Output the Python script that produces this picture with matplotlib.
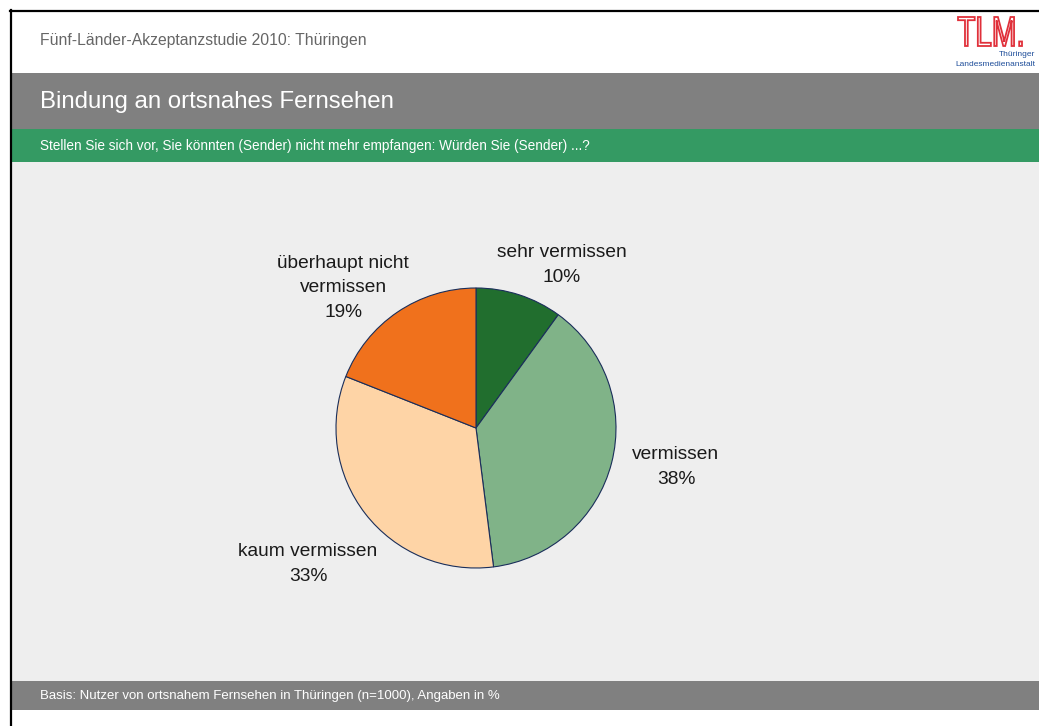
import matplotlib
matplotlib.use("Agg")
import matplotlib.pyplot as plt
from matplotlib.patches import Rectangle, PathPatch
from matplotlib.textpath import TextPath
from matplotlib.font_manager import FontProperties
from matplotlib.transforms import Affine2D

categories = ["sehr vermissen", "vermissen", "kaum vermissen", "überhaupt nicht\nvermissen"]
values = [10, 38, 33, 19]
colors = ["#216e2e", "#80b388", "#fed4a6", "#f0711c"]

header_text = "Fünf-Länder-Akzeptanzstudie 2010: Thüringen"
title_text = "Bindung an ortsnahes Fernsehen"
question_text = "Stellen Sie sich vor, Sie könnten (Sender) nicht mehr empfangen: Würden Sie (Sender) ...?"
footer_text = "Basis: Nutzer von ortsnahem Fernsehen in Thüringen (n=1000), Angaben in %"

W, H = 1039, 726
plt.rcParams['font.family'] = ['Liberation Sans', 'DejaVu Sans']
fig = plt.figure(figsize=(W / 100, H / 100), dpi=100)
fig.patch.set_facecolor("white")

bg = fig.add_axes([0, 0, 1, 1])
bg.set_xlim(0, W)
bg.set_ylim(H, 0)
bg.axis("off")

def rect(x0, y0, x1, y1, color, z=0):
    bg.add_patch(Rectangle((x0, y0), x1 - x0, y1 - y0, facecolor=color, edgecolor="none", zorder=z))

rect(11, 162, W, 681, "#eeeeee")
rect(11, 73, W, 129, "#808080")
rect(11, 129, W, 162, "#349a63")
rect(11, 681, W, 710, "#808080")
# borders
bg.plot([10.5, 10.5], [10, H], color="black", lw=1.6, zorder=5)
bg.plot([10, W], [10.5, 10.5], color="black", lw=1.6, zorder=5)

bg.text(40, 41, header_text, fontsize=11.3, color="#666666", va="center", ha="left")
bg.text(40, 102, title_text, fontsize=17.3, color="white", va="center", ha="left")
bg.text(40, 146, question_text, fontsize=9.8, color="white", va="center", ha="left")
bg.text(40, 696, footer_text, fontsize=9.5, color="white", va="center", ha="left")

# logo (outlined red letters)
tp = TextPath((0, 0), "TLM.", size=40, prop=FontProperties(family="Liberation Sans"))
ext = tp.get_extents()
sx = 64 / ext.width
sy = 29 / ext.height
tr = Affine2D().translate(-ext.x0, -ext.y0).scale(sx, -sy).translate(958, 46)
bg.add_patch(PathPatch(tr.transform_path(tp), facecolor="white", edgecolor="#e0303a", lw=1.3, zorder=6))
bg.text(1035, 54, "Thüringer", fontsize=6, color="#1f4e9a", ha="right", va="center")
bg.text(1035, 64, "Landesmedienanstalt", fontsize=6, color="#1f4e9a", ha="right", va="center")

# pie
cx, cy, r = 476, 428, 140
ax = fig.add_axes([(cx - r) / W, (H - cy - r) / H, 2 * r / W, 2 * r / H])
ax.pie(values, colors=colors, startangle=90, counterclock=False, radius=1,
       wedgeprops=dict(edgecolor="#1a2e5a", linewidth=0.8))
ax.set_xlim(-1, 1)
ax.set_ylim(-1, 1)
ax.set_aspect("equal")
ax.axis("off")

label_pos = [(562, 265), (676, 467), (308, 564), (343, 288)]
for cat, v, (lx, ly) in zip(categories, values, label_pos):
    bg.text(lx, ly, f"{cat}\n{v}%", fontsize=13.8, color="#1a1a1a", ha="center", va="center",
            linespacing=1.55)

fig.savefig("out.png", dpi=100)
